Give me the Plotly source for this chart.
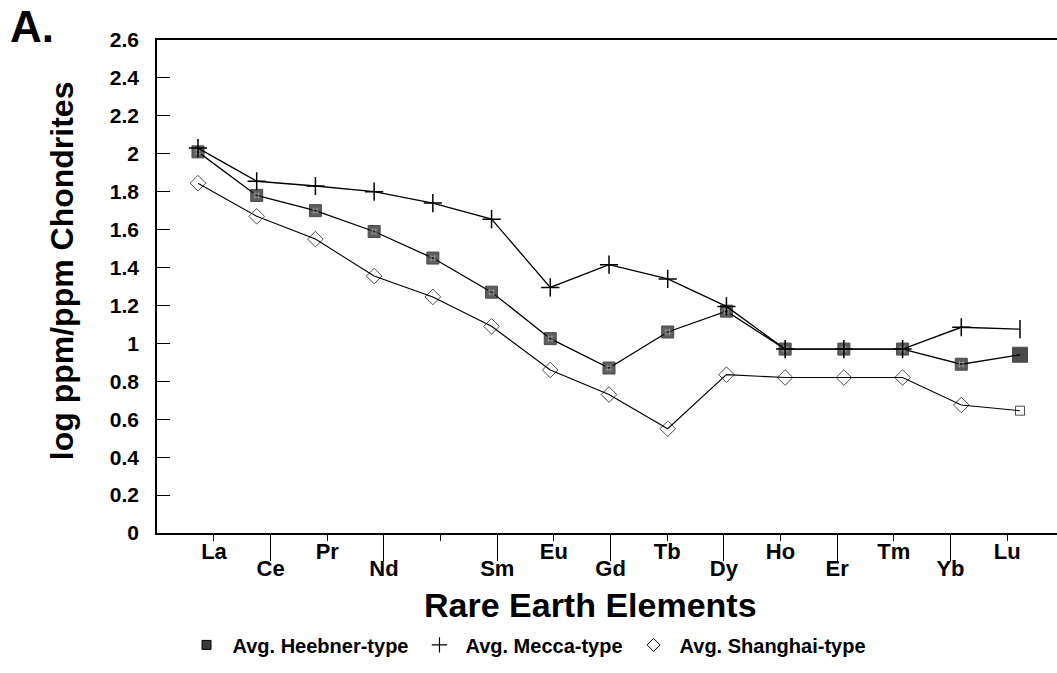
import plotly.graph_objects as go

elements = ["La", "Ce", "Pr", "Nd", "Pm", "Sm", "Eu", "Gd", "Tb", "Dy", "Ho", "Er", "Tm", "Yb", "Lu"]
tick_labels = ["La", "Ce", "Pr", "Nd", "", "Sm", "Eu", "Gd", "Tb", "Dy", "Ho", "Er", "Tm", "Yb", "Lu"]

heebner = [2.01, 1.78, 1.70, 1.59, 1.45, 1.27, 1.025, 0.87, 1.06, 1.17, 0.97, 0.97, 0.97, 0.89, 0.94]
mecca = [2.03, 1.855, 1.83, 1.80, 1.74, 1.655, 1.295, 1.415, 1.34, 1.195, 0.97, 0.97, 0.97, 1.085, 1.075]
shanghai = [1.845, 1.67, 1.55, 1.355, 1.245, 1.09, 0.86, 0.73, 0.55, 0.835, 0.82, 0.82, 0.82, 0.675, 0.645]

FONT = "Liberation Sans, Arial, Helvetica, sans-serif"
idx = list(range(len(elements)))

fig = go.Figure()

h_col = ["#1a1a1a"] * 14 + ["#000000"]
h_size = [12] * 14 + [15]
fig.add_trace(go.Scatter(x=idx, y=heebner, mode="lines+markers", showlegend=False,
                         line=dict(color="black", width=1.3),
                         marker=dict(symbol="square", color=h_col, size=h_size,
                                     line=dict(color="black", width=1))))
fig.add_trace(go.Scatter(x=idx[:-1], y=heebner[:-1], mode="markers", showlegend=False,
                         hoverinfo="skip",
                         marker=dict(symbol="hash-open", color="#8c8c8c", size=7,
                                     line=dict(color="#8c8c8c", width=1))))
m_sym = ["cross-thin-open"] * 14 + ["line-ns-open"]
fig.add_trace(go.Scatter(x=idx, y=mecca, mode="lines+markers", showlegend=False,
                         line=dict(color="black", width=1.3),
                         marker=dict(symbol=m_sym, color="black", size=13,
                                     line=dict(color="black", width=1.5))))
s_sym = ["diamond-open"] * 14 + ["square-open"]
s_size = [12] * 14 + [9]
fig.add_trace(go.Scatter(x=idx, y=shanghai, mode="lines+markers", showlegend=False,
                         line=dict(color="black", width=1.1),
                         marker=dict(symbol=s_sym, color="black", size=s_size,
                                     line=dict(color="black", width=1))))

# legend-only entries
fig.add_trace(go.Scatter(x=[None], y=[None], mode="markers", name="Avg. Heebner-type",
                         marker=dict(symbol="square", color="#3a3a3a", size=9,
                                     line=dict(color="black", width=1))))
fig.add_trace(go.Scatter(x=[None], y=[None], mode="markers", name="Avg. Mecca-type",
                         marker=dict(symbol="cross-thin-open", color="black", size=11,
                                     line=dict(color="black", width=1.2))))
fig.add_trace(go.Scatter(x=[None], y=[None], mode="markers", name="Avg. Shanghai-type",
                         marker=dict(symbol="diamond-open", color="black", size=10,
                                     line=dict(color="black", width=1))))

even = [i for i in idx if i % 2 == 0]
odd = [i for i in idx if i % 2 == 1]
tick_range = [-1.006, 14.88]

fig.update_layout(
    width=1057, height=673,
    margin=dict(l=157, r=0, t=40, b=140),
    paper_bgcolor="white", plot_bgcolor="white",
    font=dict(family=FONT, color="black", size=20),
    xaxis=dict(range=[-0.698, 14.63], showticklabels=False, ticks="",
               showgrid=False, zeroline=False, showline=True, linecolor="black",
               linewidth=1.5, mirror=True),
    xaxis2=dict(overlaying="x", anchor="y", side="bottom", range=tick_range,
                tickmode="array", tickvals=even, ticktext=[tick_labels[i] for i in even],
                ticks="outside", ticklen=7, tickwidth=1, tickcolor="black",
                ticklabelstandoff=-8,
                showgrid=False, zeroline=False, showline=False,
                tickfont=dict(family=FONT, size=22, color="black", weight="bold")),
    xaxis3=dict(overlaying="x", anchor="y", side="bottom", range=tick_range,
                tickmode="array", tickvals=odd, ticktext=[tick_labels[i] for i in odd],
                ticks="outside", ticklen=27, tickwidth=1, tickcolor="black",
                ticklabelstandoff=-11,
                showgrid=False, zeroline=False, showline=False,
                tickfont=dict(family=FONT, size=22, color="black", weight="bold")),
    yaxis=dict(range=[0, 2.6], dtick=0.2, tick0=0, ticks="inside", ticklen=13,
               tickwidth=1.2, tickcolor="black", showgrid=False, zeroline=False,
               showline=True, linecolor="black", linewidth=1.5, ticklabelstandoff=12,
               tickfont=dict(family=FONT, size=21, color="black", weight="bold")),
    legend=dict(orientation="h", x=0.41, xanchor="center", y=-0.227, yanchor="middle",
                font=dict(family=FONT, size=20, color="black", weight="bold"),
                bgcolor="rgba(0,0,0,0)", itemwidth=42, tracegroupgap=0),
    showlegend=True,
)

fig.add_trace(go.Scatter(x=[None], y=[None], xaxis="x2", showlegend=False, hoverinfo="skip"))
fig.add_trace(go.Scatter(x=[None], y=[None], xaxis="x3", showlegend=False, hoverinfo="skip"))

fig.add_annotation(text="<b>A.</b>", xref="paper", yref="paper", x=-0.1656, y=1.081,
                   xanchor="left", yanchor="top", showarrow=False,
                   font=dict(family=FONT, size=44, color="black"))
fig.add_annotation(text="<b>log ppm/ppm Chondrites</b>", xref="paper", yref="paper",
                   x=-0.1056, y=0.533, xanchor="center", yanchor="middle",
                   textangle=-90, showarrow=False,
                   font=dict(family=FONT, size=32, color="black"))
fig.add_annotation(text="<b>Rare Earth Elements</b>", xref="paper", yref="paper",
                   x=0.482, y=-0.146, xanchor="center", yanchor="middle", showarrow=False,
                   font=dict(family=FONT, size=34, color="black"))

fig.write_html("out.html")
